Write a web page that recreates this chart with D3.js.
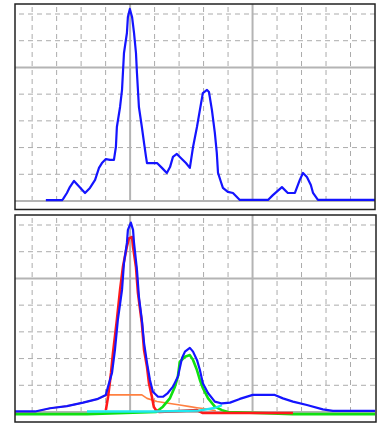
<!DOCTYPE html>
<html>
<head>
<meta charset="utf-8">
<script src="https://cdn.jsdelivr.net/npm/d3@7"></script>
<style>
  body { margin:0; background:#fff; }
  svg { display:block; }
</style>
</head>
<body>
<svg id="chart" width="381" height="423"></svg>
<script>
/* grid positions (channel units / intensity units) */
var gridX = [10,20,30,40,50,60,70,80,90,100,110,120,130,140];
var solidX = [50,100];
var gridY = [1,2,3,4,5,6,7];
var solidY = [0,5];

/* top panel: measured spectrum */
var topX = [15.6,22.2,22.6,24.2,25.4,27.1,31.6,33.6,35.7,37.3,38.5,40.1,41.8,43.4,44.2,44.6,45.9,46.7,47.5,48.7,49.1,49.9,50.8,51.6,52.4,52.8,53.6,54.8,55.7,56.5,56.9,61.0,63.0,65.0,66.3,67.5,69.1,70.3,72.8,74.4,75.7,77.3,78.5,79.7,81.4,82.2,83.4,84.6,85.4,85.9,87.1,87.9,89.9,92.0,94.8,106.3,108.3,112.0,114.4,117.3,119.3,120.6,122.2,123.8,124.7,126.7,150];
var topY = [0.03,0.03,0.07,0.3,0.52,0.75,0.3,0.49,0.79,1.24,1.42,1.57,1.54,1.54,2.02,2.77,3.52,4.16,5.54,6.29,6.89,7.19,6.89,6.29,5.54,4.79,3.52,2.77,2.17,1.65,1.42,1.42,1.24,1.05,1.27,1.65,1.76,1.65,1.42,1.24,2.02,2.77,3.41,4.04,4.16,4.08,3.41,2.55,1.8,1.05,0.71,0.49,0.34,0.3,0.04,0.04,0.22,0.52,0.3,0.3,0.79,1.05,0.9,0.6,0.3,0.04,0.04];

/* bottom panel: fit total + components */
var sumX = [3,11.2,17.3,24.2,30.8,36.5,40.1,41.0,42.6,43.8,45.0,46.7,47.5,48.7,49.1,50.3,51.2,51.6,52.8,53.6,54.8,55.7,56.9,58.1,59.3,61.4,63.4,65.4,67.5,69.5,71.2,72.4,74.4,75.7,77.3,78.5,79.7,81.8,84.6,87.5,90.8,94.8,100.1,104.2,109.1,112.4,116.5,122.2,128.7,132.8,150];
var sumY = [0.02,0.02,0.14,0.22,0.35,0.48,0.64,0.95,1.46,2.32,3.45,4.57,5.58,6.33,6.82,7.09,6.82,6.33,5.32,4.31,3.45,2.58,1.84,1.2,0.76,0.57,0.57,0.71,0.95,1.32,2.02,2.26,2.4,2.26,1.95,1.57,1.08,0.71,0.39,0.32,0.35,0.49,0.64,0.64,0.64,0.51,0.39,0.26,0.1,0.04,0.04];

var redX = [40.1,41.0,42.2,43.0,44.6,45.9,47.1,48.7,49.5,50.8,51.2,52.4,53.2,54.8,55.7,56.9,57.7,58.9,59.7,60.6,62,77.3,79.7,116.5];
var redY = [0.07,0.57,1.46,2.2,3.45,4.57,5.45,6.2,6.5,6.55,6.18,5.43,4.46,3.33,2.32,1.69,1.08,0.57,0.19,0.07,0,0.07,-0.04,-0.04];

var greenX = [3,32.4,60.6,63.4,66.3,68.3,69.5,70.3,72.4,74.4,75.7,77.3,78.5,79.7,81.8,84.6,87.5,90,116.5,150];
var greenY = [-0.08,-0.08,0,0.2,0.52,0.95,1.32,1.88,2.07,2.13,1.95,1.57,1.2,0.9,0.52,0.2,0.07,0,-0.08,-0.08];

var orangeX = [3,11.2,17.3,24.2,30.8,36.5,40.1,41.0,54.8,56.9,61.0,66.3,70.3,74.4,77.3,80.5,85];
var orangeY = [0.01,0.01,0.14,0.22,0.35,0.48,0.62,0.64,0.64,0.51,0.39,0.32,0.26,0.2,0.16,0.12,0.05];

var cyanX = [32.4,60,78,84.5,87.5];
var cyanY = [0.02,0.02,0.05,0.15,0.26];

var svg = d3.select("#chart");

var x = d3.scaleLinear().domain([3,150]).range([15,375]);

/* draws grid + curves of one panel, base = pixel row of zero */
function panel(top, base, series){
    var y = d3.scaleLinear().domain([0,7]).range([base, base-187]);
    var g = svg.append("g");

    g.selectAll("line.vd").data(gridX.filter(function(d){return solidX.indexOf(d)<0;}))
	.enter().append("line")
	.attr("x1", x).attr("x2", x)
	.attr("y1", top+3).attr("y2", y(0))
	.attr("stroke", "#ababab").attr("stroke-width", 1)
	.attr("stroke-dasharray", "5,4");
    g.selectAll("line.hd").data(gridY.filter(function(d){return solidY.indexOf(d)<0;}))
	.enter().append("line")
	.attr("x1", 19).attr("x2", 375)
	.attr("y1", y).attr("y2", y)
	.attr("stroke", "#ababab").attr("stroke-width", 1)
	.attr("stroke-dasharray", "5,4");
    g.selectAll("line.vs").data(solidX)
	.enter().append("line")
	.attr("x1", x).attr("x2", x)
	.attr("y1", top).attr("y2", y(0))
	.attr("stroke", "#b4b4b4").attr("stroke-width", 2);
    g.selectAll("line.hs").data(solidY)
	.enter().append("line")
	.attr("x1", 15).attr("x2", 375)
	.attr("y1", y).attr("y2", y)
	.attr("stroke", "#b4b4b4").attr("stroke-width", 2);

    series.forEach(function(s){
	var pts = s.xs.map(function(d,i){ return [d, s.ys[i]]; });
	g.append("path")
	    .datum(pts)
	    .attr("fill", "none")
	    .attr("stroke", s.color)
	    .attr("stroke-width", s.w)
	    .attr("stroke-linejoin", "round")
	    .attr("d", d3.line().x(function(d){return x(d[0]);}).y(function(d){return y(d[1]);}));
    });
    return g;
}

panel(4, 201, [{xs:topX, ys:topY, color:"#1414ff", w:2.2}]);
panel(215, 412, [
    {xs:orangeX, ys:orangeY, color:"#ff8040", w:1.6},
    {xs:greenX, ys:greenY, color:"#10e010", w:2.6},
    {xs:redX, ys:redY, color:"#ff1a1a", w:2.6},
    {xs:cyanX, ys:cyanY, color:"#20e8f0", w:2.4},
    {xs:sumX, ys:sumY, color:"#1414ff", w:2.2}
]);

/* frames */
svg.append("rect").attr("x", 15).attr("y", 4).attr("width", 360).attr("height", 205.5)
    .attr("fill", "none").attr("stroke", "#222").attr("stroke-width", 1.5);
svg.append("rect").attr("x", 15).attr("y", 215).attr("width", 361).attr("height", 207)
    .attr("fill", "none").attr("stroke", "#222").attr("stroke-width", 1.5);
</script>
</body>
</html>
